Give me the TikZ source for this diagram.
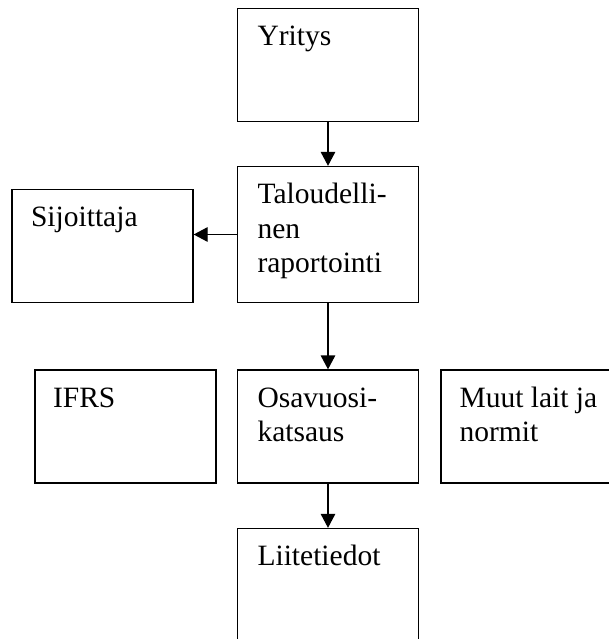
\documentclass[tikz,border=0pt]{standalone}
\usepackage{fontspec}
\setmainfont{Liberation Serif}
\usetikzlibrary{arrows.meta}

\newcommand{\rivit}[1]{\begin{tabular}[t]{@{}l@{}}#1\end{tabular}}

\begin{document}
\begin{tikzpicture}[x=1pt,y=-1pt,font=\fontsize{29.5}{34.5}\selectfont,
  laatikko/.style={draw,line width=1.3pt,minimum width=181pt,minimum height=113pt,inner sep=0pt},
  teksti/.style={anchor=base west,inner sep=0pt},
  nuoli/.style={-{Triangle[length=14pt,width=14.5pt]},line width=1.3pt}]

\useasboundingbox (0,0) rectangle (609,639);
\clip (0,0) rectangle (609,639);

% laatikot
\node[laatikko] (yritys) at (328,65) {};
\node[laatikko,minimum height=136pt] (raportointi) at (328,234.5) {};
\node[laatikko] (sijoittaja) at (102.5,246) {};
\node[laatikko] (ifrs) at (125.5,426.5) {};
\node[laatikko] (osavuosi) at (328,426.5) {};
\node[laatikko] (muut) at (531.5,426.5) {};
\node[laatikko] (liite) at (328,585) {};

% tekstit
\node[teksti] (yritysT) at ([shift={(20.5,38)}]yritys.north west) {Yritys};
\node[teksti] (raportointiT) at ([shift={(20.5,38)}]raportointi.north west) {\rivit{Taloudelli-\\nen\\raportointi}};
\node[teksti] (sijoittajaT) at ([shift={(19.5,37.5)}]sijoittaja.north west) {Sijoittaja};
\node[teksti] (ifrsT) at ([shift={(18.5,38)}]ifrs.north west) {IFRS};
\node[teksti] (osavuosiT) at ([shift={(20.5,38)}]osavuosi.north west) {\rivit{Osavuosi-\\katsaus}};
\node[teksti] (muutT) at ([shift={(19,38)}]muut.north west) {\rivit{Muut lait ja\\normit}};
\node[teksti] (liiteT) at ([shift={(20.5,38)}]liite.north west) {Liitetiedot};

% nuolet
\draw[nuoli] (yritys) -- (raportointi);
\draw[nuoli] (raportointi.west) -- (raportointi.west -| sijoittaja.east);
\draw[nuoli] (raportointi) -- (osavuosi);
\draw[nuoli] (osavuosi) -- (liite);

\end{tikzpicture}
\end{document}
